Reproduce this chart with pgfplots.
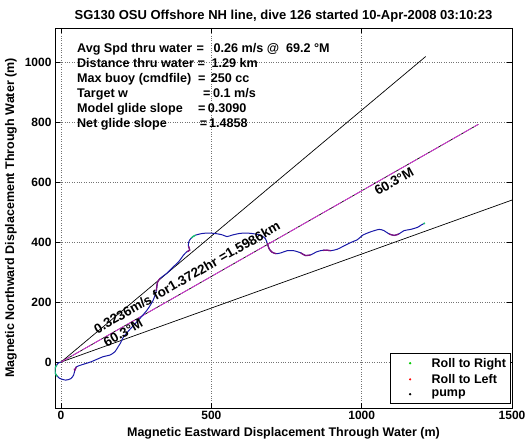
\documentclass[border=0pt]{standalone}
\usepackage{pgfplots}
\pgfplotsset{compat=1.18}
\usepackage{fontspec}
\setmainfont{Liberation Sans}
\definecolor{trk}{rgb}{0.10,0.10,0.66}
\definecolor{rl}{rgb}{0.50,0.08,0.50}
\definecolor{rr}{rgb}{0.1,0.75,0.45}
\newcommand{\infofont}{\fontsize{12.6}{15}\selectfont\bfseries}
\newcommand{\linefont}{\fontsize{13.4}{15}\selectfont\bfseries}
\begin{document}
\begin{tikzpicture}
\begin{axis}[
  at={(0,0)}, anchor=south west,
  scale only axis, width=457pt, height=380pt,
  xmin=-20, xmax=1500, ymin=-153, ymax=1113,
  xtick={0,500,1000,1500}, ytick={0,200,400,600,800,1000},
  xtick pos=both, ytick pos=both,
  tick align=inside, major tick length=5pt,
  tick style={black, line width=0.5pt},
  axis line style={line width=0.6pt},
  grid=major, grid style={dotted, black!55, line width=0.5pt},
  /pgf/number format/assume math mode=true,
  /pgf/number format/1000 sep={},
  ticklabel style={font=\fontsize{12}{14}\selectfont\bfseries},
  every axis title/.style={at={(rel axis cs:0.5,1)}, anchor=base, yshift=8pt, font=\fontsize{13}{15}\selectfont\bfseries},
  title={SG130 OSU Offshore NH line, dive 126 started 10-Apr-2008 03:10:23},
  every axis x label/.style={at={(rel axis cs:0.5,0)}, anchor=center, yshift=-25pt, font=\fontsize{12.5}{14}\selectfont\bfseries},
  every axis y label/.style={at={(rel axis cs:0,0.5)}, anchor=center, xshift=-44pt, rotate=90, font=\fontsize{12.5}{14}\selectfont\bfseries},
  xlabel={Magnetic Eastward Displacement Through Water (m)},
  ylabel={Magnetic Northward Displacement Through Water (m)},
  legend style={at={(rel axis cs:0.996,0.013)}, anchor=south east, draw=black, fill=white,
    font=\fontsize{12.5}{14}\selectfont\bfseries, row sep=1.5pt, inner xsep=2pt, inner ysep=2.5pt,
    nodes={inner ysep=2pt}},
  legend image code/.code={\path (0,0) (1.3cm,0); \draw[#1] plot coordinates {(0.62cm,0cm)};},
  legend cell align=left,
  clip=true,
]
% guide lines
\addplot[forget plot, black, line width=0.7pt] coordinates {(0,0) (1213,1018)};
\addplot[forget plot, black, line width=0.7pt] coordinates {(0,0) (1520,547)};
\addplot[forget plot, black, line width=0.7pt] coordinates {(0,0) (1388,792)};
\addplot[forget plot, color={rgb,1:red,0.92;green,0.2;blue,0.92}, line width=0.7pt, dash pattern=on 10pt off 2.5pt] coordinates {(0,0) (1388,792)};
% track
\addplot[forget plot, trk, line width=1pt, smooth, tension=0.4] coordinates {
(0,0) (-10,-4) (-20,-20) (-19,-38) (-5,-54) (16,-60) (33,-55) (42,-43) (46,-27) (51,-16) (66,-10)
(100,1) (140,18) (162,23) (179,34) (190,51) (197,62) (208,84) (230,110) (255,137) (286,173)
(306,205) (317,238) (321,266) (330,279) (352,296) (374,318) (391,334) (408,357) (419,368)
(428,373) (424,386) (425,401) (433,413) (448,423) (474,429) (508,429) (536,424) (552,418)
(569,423) (597,429) (630,429) (663,423) (679,412) (686,396) (692,378) (702,366) (716,361)
(732,364) (752,371) (774,371) (797,364) (813,355) (830,357) (852,368) (874,373) (897,371)
(919,376) (941,387) (963,398) (986,408) (1004,423) (1030,434) (1058,442) (1074,438)
(1091,427) (1108,422) (1124,427) (1141,438) (1163,442) (1186,449) (1197,456) (1208,462)};
% roll to left segments
\addplot[forget plot, rl, line width=1.3pt, smooth] coordinates {(44,-22) (46,-27) (51,-16)};
\addplot[forget plot, rl, line width=1.3pt, smooth] coordinates {(317,238) (321,266) (330,279)};
\addplot[forget plot, rl, line width=1.3pt, smooth] coordinates {(419,368) (428,373) (424,386)};
\addplot[forget plot, rl, line width=1.3pt, smooth] coordinates {(686,396) (692,378) (702,366) (716,361)};
\addplot[forget plot, rl, line width=1.3pt, smooth] coordinates {(797,364) (813,355) (830,357)};
\addplot[forget plot, rl, line width=1.3pt, smooth] coordinates {(1091,427) (1108,422) (1124,427)};
\addplot[forget plot, rl, line width=1.3pt, smooth] coordinates {(871,372) (885,373) (897,371)};
% roll to right segments
\addplot[forget plot, rr, line width=1.3pt, smooth] coordinates {(-14,-10) (-20,-20) (-19,-38) (-12,-48)};
\addplot[forget plot, rr, line width=1.3pt, smooth] coordinates {(433,413) (440,419) (448,423)};
\addplot[forget plot, only marks, mark=*, mark size=0.8pt, rr] coordinates {(1208,462)};
% legend
\addlegendimage{only marks, mark=*, mark size=0.9pt, green!80!black}
\addlegendentry{Roll to Right}
\addlegendimage{only marks, mark=*, mark size=0.9pt, red}
\addlegendentry{Roll to Left}
\addlegendimage{only marks, mark=*, mark size=0.9pt, black}
\addlegendentry{pump}
% labels on lines
\node[anchor=base west, rotate=29.7, inner sep=0pt, font=\linefont] at (axis cs:120,93) {0.3236m/s for1.3722hr =1.5986km};
\node[anchor=base west, rotate=29.7, inner sep=0pt, font=\linefont] at (axis cs:152,49) {60.3°M};
\node[anchor=base west, rotate=29.7, inner sep=0pt, font=\linefont] at (axis cs:1053,553) {60.3°M};
% info text
\node[anchor=base west, inner sep=0pt, font=\infofont] at (axis cs:53,1033) {Avg Spd thru water};
\node[anchor=base, inner sep=0pt, font=\infofont] at (axis cs:463,1033) {=};
\node[anchor=base west, inner sep=0pt, font=\infofont] at (axis cs:507,1033) {0.26 m/s @\ \ 69.2 °M};
\node[anchor=base west, inner sep=0pt, font=\infofont] at (axis cs:53,983) {Distance thru water};
\node[anchor=base, inner sep=0pt, font=\infofont] at (axis cs:467,983) {=};
\node[anchor=base west, inner sep=0pt, font=\infofont] at (axis cs:500,983) {1.29 km};
\node[anchor=base west, inner sep=0pt, font=\infofont] at (axis cs:53,933) {Max buoy (cmdfile)};
\node[anchor=base, inner sep=0pt, font=\infofont] at (axis cs:468,933) {=};
\node[anchor=base west, inner sep=0pt, font=\infofont] at (axis cs:498,933) {250 cc};
\node[anchor=base west, inner sep=0pt, font=\infofont] at (axis cs:53,883) {Target w};
\node[anchor=base, inner sep=0pt, font=\infofont] at (axis cs:485,883) {=};
\node[anchor=base west, inner sep=0pt, font=\infofont] at (axis cs:505,883) {0.1 m/s};
\node[anchor=base west, inner sep=0pt, font=\infofont] at (axis cs:53,833) {Model glide slope};
\node[anchor=base, inner sep=0pt, font=\infofont] at (axis cs:468,833) {=};
\node[anchor=base west, inner sep=0pt, font=\infofont] at (axis cs:488,833) {0.3090};
\node[anchor=base west, inner sep=0pt, font=\infofont] at (axis cs:53,783) {Net glide slope};
\node[anchor=base, inner sep=0pt, font=\infofont] at (axis cs:474,783) {=};
\node[anchor=base west, inner sep=0pt, font=\infofont] at (axis cs:492,783) {1.4858};
\end{axis}
\pgfresetboundingbox
\path (-55pt,-34pt) rectangle (474pt,408pt);
\end{tikzpicture}
\end{document}
